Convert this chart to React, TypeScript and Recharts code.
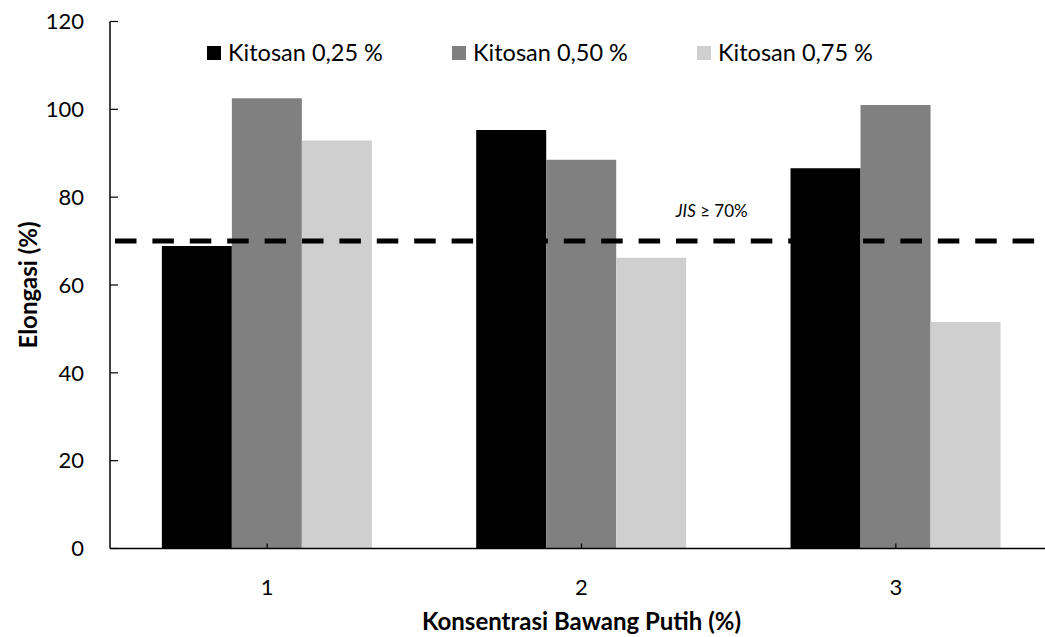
import React from 'react';
import { BarChart, Bar, XAxis, YAxis, ReferenceLine, Legend, Label } from 'recharts';

const categories = ['1', '2', '3'];
const kitosan025 = [68.9, 95.3, 86.6];
const kitosan050 = [102.5, 88.5, 101.0];
const kitosan075 = [92.9, 66.2, 51.6];
const yTicks = [0, 20, 40, 60, 80, 100, 120];
const seriesNames = ['Kitosan 0,25 %', 'Kitosan 0,50 %', 'Kitosan 0,75 %'];
const seriesColors = ['#000000', '#808080', '#d0cfd0'];
const jisLimit = 70;

const data = categories.map((c, i) => ({
  name: c,
  k025: kitosan025[i],
  k050: kitosan050[i],
  k075: kitosan075[i],
}));

const FONT = 'Lato, "Open Sans", sans-serif';

const renderLegend = (props: any) => {
  const { payload } = props;
  return (
    <div style={{ display: 'flex', fontFamily: FONT, fontSize: 23.5, color: '#000', lineHeight: '25px' }}>
      {(payload || []).map((entry: any, i: number) => (
        <div key={i} style={{ display: 'flex', alignItems: 'center', width: 245 }}>
          <span style={{ display: 'inline-block', width: 14, height: 14, background: entry.color, marginRight: 7 }} />
          <span>{entry.value}</span>
        </div>
      ))}
    </div>
  );
};

const YTitle = (props: any) => {
  const vb = props.viewBox || {};
  const cx = vb.x + 27;
  const cy = vb.y + vb.height / 2;
  return (
    <text x={cx} y={cy} transform={`rotate(-90, ${cx}, ${cy})`} textAnchor="middle" dominantBaseline="central"
      fontFamily={FONT} fontSize={24} fontWeight="bold" fill="#000">
      Elongasi (%)
    </text>
  );
};

const XTitle = (props: any) => {
  const vb = props.viewBox || {};
  const cx = vb.x + vb.width / 2;
  const cy = vb.y + 71.5;
  return (
    <text x={cx} y={cy} textAnchor="middle" dominantBaseline="central"
      fontFamily={FONT} fontSize={24} fontWeight="bold" fill="#000">
      Konsentrasi Bawang Putih (%)
    </text>
  );
};

const JisLabel = (props: any) => {
  const vb = props.viewBox || {};
  const x = vb.x + vb.width * 0.6;
  const y = vb.y - 31;
  return (
    <text x={x} y={y} dominantBaseline="central" fontFamily={FONT} fontSize={17} fill="#000">
      <tspan fontStyle="italic">JIS</tspan>
      <tspan> ≥ 70%</tspan>
    </text>
  );
};

export default function App() {
  return (
    <div style={{ position: 'fixed', left: 0, top: 0, width: 1045, height: 637, overflow: 'hidden', background: '#fff' }}>
      <BarChart
        width={1060}
        height={637}
        data={data}
        margin={{ top: 21.5, right: 7, left: 0, bottom: 28.5 }}
        barCategoryGap="16.5%"
        barGap={0}
      >
        <XAxis
          dataKey="name"
          height={60}
          axisLine={{ stroke: '#000', strokeWidth: 1.5 }}
          tickLine={{ stroke: '#000', strokeWidth: 1.2 }}
          tickSize={-5}
          tickMargin={36}
          tick={{ fill: '#000', fontFamily: FONT, fontSize: 22 }}
        >
          <Label content={<XTitle />} />
        </XAxis>
        <XAxis
          xAxisId="top"
          dataKey="name"
          orientation="top"
          height={0}
          tick={false}
          tickLine={false}
          axisLine={{ stroke: '#000', strokeWidth: 1.5 }}
        />
        <YAxis
          width={110}
          domain={[0, 120]}
          ticks={yTicks}
          interval={0}
          axisLine={{ stroke: '#000', strokeWidth: 1.5 }}
          tickLine={{ stroke: '#000', strokeWidth: 1.2 }}
          tickSize={-8}
          tickMargin={34}
          tick={{ fill: '#000', fontFamily: FONT, fontSize: 22 }}
        >
          <Label content={<YTitle />} />
        </YAxis>
        <Legend
          content={renderLegend}
          layout="horizontal"
          verticalAlign="middle"
          align="center"
          wrapperStyle={{ top: 40, left: 207, width: 'auto' }}
        />
        <Bar dataKey="k025" name={seriesNames[0]} fill={seriesColors[0]} isAnimationActive={false} />
        <Bar dataKey="k050" name={seriesNames[1]} fill={seriesColors[1]} isAnimationActive={false} />
        <Bar dataKey="k075" name={seriesNames[2]} fill={seriesColors[2]} isAnimationActive={false} />
        <ReferenceLine
          y={jisLimit}
          stroke="#000"
          strokeWidth={5}
          strokeDasharray="21.5 15.9"
          strokeDashoffset={32.4}
          label={<JisLabel />}
        />
      </BarChart>
    </div>
  );
}
